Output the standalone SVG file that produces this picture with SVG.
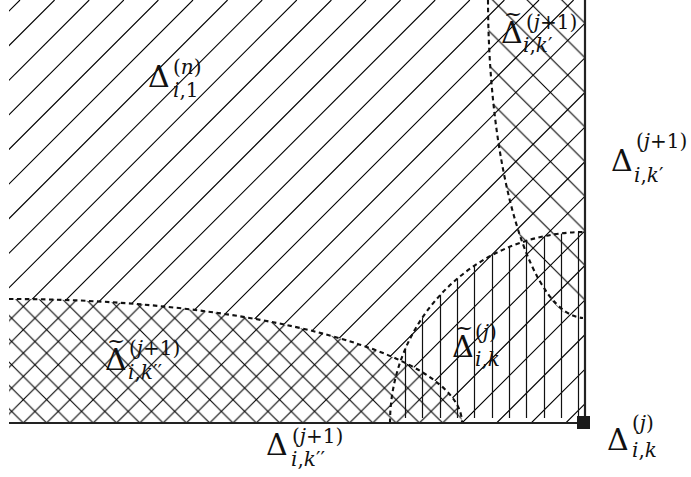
<svg xmlns="http://www.w3.org/2000/svg" width="691" height="477" viewBox="0 0 691 477">
<style>
.h{fill:none;stroke:#000;stroke-width:1.1}
.v{fill:none;stroke:#111;stroke-width:1.2}
.dash{fill:none;stroke:#111;stroke-width:2.1;stroke-dasharray:4.5 3.5}
.frame{fill:none;stroke:#222;stroke-width:2.2}
.big{font-family:"DejaVu Serif",serif;font-size:30px;fill:#111}
.sm{font-family:"DejaVu Serif",serif;font-size:20px;fill:#111}
.tl{font-size:22px}
.it{font-style:italic}
</style>
<defs>
<clipPath id="clip-main">
<path clip-rule="evenodd" d="M9,0 H585 V423 H9 Z M9,299 A453,124 0 0 1 462,423 H9 Z"/>
</clipPath>
<clipPath id="clip-c">
<path d="M390.1,418 A195,191 0 0 1 585,232 V418 Z"/>
</clipPath>
<pattern id="b35" patternUnits="userSpaceOnUse" x="8.2" y="0" width="34.6" height="34.6">
<path class="h" d="M0,0 L34.6,34.6 M32.6,-2 L36.6,2 M-2,32.6 L2,36.6"/>
</pattern>
<pattern id="x23" patternUnits="userSpaceOnUse" x="3.6" y="0" width="23.3" height="23.3">
<path class="h" d="M0,23.3 L23.3,0 M-2,2 L2,-2 M21.3,25.3 L25.3,21.3"/>
</pattern>
<pattern id="y23" patternUnits="userSpaceOnUse" x="19.7" y="0" width="23.3" height="23.3">
<path class="h" d="M0,0 L23.3,23.3 M21.3,-2 L25.3,2 M-2,21.3 L2,25.3"/>
</pattern>
</defs>

<g id="hatching">
<g id="region-main" clip-path="url(#clip-main)">
<path class="h" d="M20,0 L-403,423 M54.6,0 L-368.4,423 M89.2,0 L-333.8,423 M123.8,0 L-299.2,423 M158.4,0 L-264.6,423 M193,0 L-230,423 M227.6,0 L-195.4,423 M262.2,0 L-160.8,423 M296.8,0 L-126.2,423 M331.4,0 L-91.6,423 M366,0 L-57,423 M400.6,0 L-22.4,423 M435.2,0 L12.2,423 M469.8,0 L46.8,423 M504.4,0 L81.4,423 M539,0 L116,423 M573.6,0 L150.6,423 M608.2,0 L185.2,423 M642.8,0 L219.8,423 M677.4,0 L254.4,423 M712,0 L289,423 M746.6,0 L323.6,423 M781.2,0 L358.2,423 M815.8,0 L392.8,423 M850.4,0 L427.4,423 M885,0 L462,423 M919.6,0 L496.6,423 M954.2,0 L531.2,423 M988.8,0 L565.8,423"/>
</g>
<path id="region-a" fill="url(#x23)" d="M9,299 A453,124 0 0 1 462,423 H9 Z"/>
<path id="region-a2" fill="url(#y23)" d="M9,299 A453,124 0 0 1 462,423 H9 Z"/>
<path id="region-b" fill="url(#b35)" d="M488,0 A97,320 0 0 0 585,320 V0 Z"/>
<g id="region-c" clip-path="url(#clip-c)">
<path class="v" d="M405.5,230 V418 M422.5,230 V418 M440.5,230 V418 M457.5,230 V418 M474.5,230 V418 M492.5,230 V418 M509.5,230 V418 M526.5,230 V418 M544.5,230 V418 M561.5,230 V418 M578.5,230 V418"/>
</g>
</g>

<g id="connectors">
<path class="dash" d="M9,299 A453,124 0 0 1 462,423"/>
<path class="dash" d="M488,0 A97,320 0 0 0 583,318"/>
<path class="dash" d="M390,423 A195,191 0 0 1 585,232"/>
<path class="frame" d="M9,423 H585 V0"/>
<rect x="577" y="416" width="13" height="13" fill="#1a1a1a"/>
</g>

<g id="label-n1">
<text class="big" x="148" y="87">Δ</text>
<text class="sm" x="173" y="74">(<tspan class="it">n</tspan>)</text>
<text class="sm" x="173" y="96.5"><tspan class="it">i</tspan>,1</text>
</g>

<g id="label-tilde-kp">
<text class="big"><tspan class="tl" x="504" y="21">~</tspan><tspan x="501" y="43">Δ</tspan></text>
<text class="sm" x="526" y="29">(<tspan class="it">j</tspan>+1)</text>
<text class="sm" x="523" y="52"><tspan class="it">i</tspan>,<tspan class="it">k</tspan>′</text>
</g>

<g id="label-kp">
<text class="big" x="611" y="171">Δ</text>
<text class="sm" x="636" y="148">(<tspan class="it">j</tspan>+1)</text>
<text class="sm" x="634" y="182"><tspan class="it">i</tspan>,<tspan class="it">k</tspan>′</text>
</g>

<g id="label-tilde-k">
<text class="big"><tspan class="tl" x="455" y="335">~</tspan><tspan x="452" y="357">Δ</tspan></text>
<text class="sm" x="475" y="339">(<tspan class="it">j</tspan>)</text>
<text class="sm" x="475" y="366"><tspan class="it">i</tspan>,<tspan class="it">k</tspan></text>
</g>

<g id="label-tilde-kpp">
<text class="big"><tspan class="tl" x="107" y="348">~</tspan><tspan x="105" y="370">Δ</tspan></text>
<text class="sm" x="129" y="355">(<tspan class="it">j</tspan>+1)</text>
<text class="sm" x="128" y="379"><tspan class="it">i</tspan>,<tspan class="it">k</tspan>′′</text>
</g>

<g id="label-kpp">
<text class="big" x="266" y="455">Δ</text>
<text class="sm" x="292" y="443">(<tspan class="it">j</tspan>+1)</text>
<text class="sm" x="291" y="466"><tspan class="it">i</tspan>,<tspan class="it">k</tspan>′′</text>
</g>

<g id="label-k">
<text class="big" x="607" y="450">Δ</text>
<text class="sm" x="632" y="430">(<tspan class="it">j</tspan>)</text>
<text class="sm" x="632" y="457"><tspan class="it">i</tspan>,<tspan class="it">k</tspan></text>
</g>
</svg>
